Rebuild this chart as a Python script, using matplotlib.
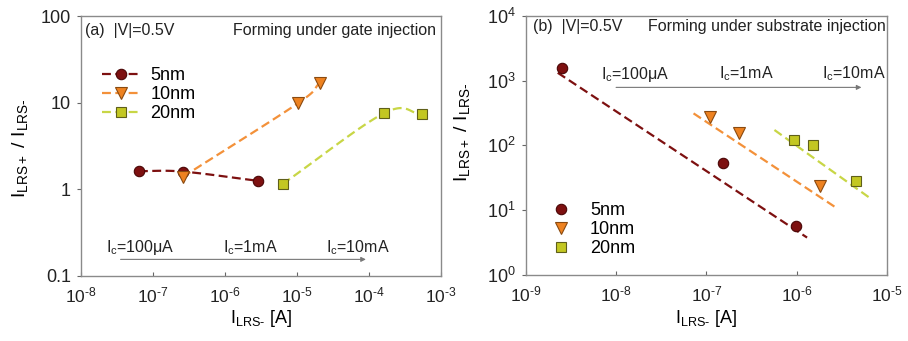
import numpy as np
import matplotlib
matplotlib.use("Agg")
import matplotlib.pyplot as plt
from matplotlib.ticker import LogLocator, FixedLocator, FixedFormatter, FuncFormatter

plt.rcParams['font.family'] = ['Liberation Sans', 'DejaVu Sans']
plt.rcParams['mathtext.fontset'] = 'custom'
plt.rcParams['mathtext.rm'] = 'Liberation Sans'
plt.rcParams['mathtext.it'] = 'Liberation Sans:italic'
plt.rcParams['mathtext.bf'] = 'Liberation Sans:bold'

# ---------------- data (a) gate injection ----------------
a_labels = ['5nm', '10nm', '20nm']
a5_x = [6.4e-8, 2.6e-7, 2.9e-6]
a5_y = [1.62, 1.6, 1.25]
a10_x = [2.6e-7, 1.02e-5, 2.05e-5]
a10_y = [1.39, 9.8, 16.8]
a20_x = [6.3e-6, 1.63e-4, 5.4e-4]
a20_y = [1.15, 7.6, 7.3]

# ---------------- data (b) substrate injection ----------------
b5_x = [2.5e-9, 1.53e-7, 9.8e-7]
b5_y = [1540, 53, 5.8]
b10_x = [1.1e-7, 2.3e-7, 1.8e-6]
b10_y = [277, 153, 23.6]
b20_x = [9.3e-7, 1.5e-6, 4.5e-6]
b20_y = [121, 101, 28.5]
# fitted trend lines (end points)
fit5_x = [2.26e-9, 1.30e-6]
fit5_y = [1318, 3.8]
fit10_x = [7.2e-8, 2.64e-6]
fit10_y = [312, 11.3]
fit20_x = [5.66e-7, 6.7e-6]
fit20_y = [173, 14.9]

ic_labels = ['100μA', '1mA', '10mA']
a_ic_x = [2.27e-8, 9.3e-7, 2.5e-5]
a_ic_y = 0.214
a_arrow_x = [3.56e-8, 9.0e-5]
a_arrow_y = 0.155
b_ic_x = [6.8e-9, 1.37e-7, 1.9e-6]
b_ic_y = 1260
b_arrow_x = [1.0e-8, 5.2e-6]
b_arrow_y = 785

c5 = '#7d1010'
c5e = '#4a0606'
c10l = '#f3913a'
c10f = '#ee8220'
c10e = '#8a4a10'
c20l = '#c8d646'
c20f = '#c3c722'
c20e = '#5f5f1a'

HY = '\u2010'  # short hyphen


def catmull(xs, ys, n=40):
    """Smooth parametric curve through points in log-log space."""
    P = np.column_stack([np.log10(xs), np.log10(ys)])
    m = len(P)
    T = np.zeros_like(P)
    for i in range(m):
        if i == 0:
            T[i] = P[1] - P[0]
        elif i == m - 1:
            T[i] = P[-1] - P[-2]
        else:
            T[i] = (P[i + 1] - P[i - 1]) / 2
    out = []
    for i in range(m - 1):
        t = np.linspace(0, 1, n)[:, None]
        h00 = 2 * t**3 - 3 * t**2 + 1
        h10 = t**3 - 2 * t**2 + t
        h01 = -2 * t**3 + 3 * t**2
        h11 = t**3 - t**2
        seg = h00 * P[i] + h10 * T[i] + h01 * P[i + 1] + h11 * T[i + 1]
        out.append(seg)
    out = np.vstack(out)
    return 10 ** out[:, 0], 10 ** out[:, 1]


def pow_fmt(v, pos):
    e = int(round(np.log10(v)))
    s = str(e).replace('-', HY)
    return r'10$^{\mathregular{' + s + '}}$'


fig = plt.figure(figsize=(9.08, 3.41), dpi=100)
ax1 = fig.add_axes([0.089, 0.191, 0.397, 0.762])
ax2 = fig.add_axes([0.579, 0.193, 0.398, 0.761])

dash = (4, 2)
series_a = [(a5_x, a5_y, c5, c5, c5e, 'o', 7.5),
            (a10_x, a10_y, c10l, c10f, c10e, 'v', 8),
            (a20_x, a20_y, c20l, c20f, c20e, 's', 7)]
handles = []
for (xs, ys, lc, fc, ec, mk, ms), lab in zip(series_a, a_labels):
    sx, sy = catmull(xs, ys)
    ax1.plot(sx, sy, color=lc, lw=1.6, dashes=dash, zorder=2)
    ax1.plot(xs, ys, ls='none', marker=mk, ms=ms, mfc=fc, mec=ec, mew=0.8, zorder=3)
    hh, = ax1.plot([], [], color=lc, lw=1.6, dashes=dash, marker=mk, ms=ms,
                   mfc=fc, mec=ec, mew=0.8, label=lab)
    handles.append(hh)

ax1.set_xscale('log')
ax1.set_yscale('log')
ax1.set_xlim(1e-8, 1e-3)
ax1.set_ylim(0.1, 100)
ax1.yaxis.set_major_locator(FixedLocator([0.1, 1, 10, 100]))
ax1.yaxis.set_major_formatter(FixedFormatter(['0.1', '1', '10', '100']))
ax1.xaxis.set_major_locator(FixedLocator([1e-8, 1e-7, 1e-6, 1e-5, 1e-4, 1e-3]))
ax1.xaxis.set_major_formatter(FuncFormatter(pow_fmt))
ax1.minorticks_off()

ax1.legend(handles, a_labels, loc='upper left', bbox_to_anchor=(0.038, 0.83),
           frameon=False, fontsize=13, handlelength=2.1, labelspacing=0.1,
           handletextpad=0.6, borderaxespad=0)

ax1.text(0.012, 0.945, '(a)  |V|=0.5V', transform=ax1.transAxes, fontsize=11.5,
         ha='left', va='center', color='#222222')
ax1.text(0.985, 0.945, 'Forming under gate injection', transform=ax1.transAxes,
         fontsize=11.5, ha='right', va='center', color='#222222')
for x, lab in zip(a_ic_x, ic_labels):
    ax1.text(x, a_ic_y, r'I$_\mathregular{c}$=' + lab, fontsize=11.5,
             ha='left', va='center', color='#222222')
ax1.annotate('', xy=(a_arrow_x[1], a_arrow_y), xytext=(a_arrow_x[0], a_arrow_y),
             arrowprops=dict(arrowstyle='-|>', color='#777777', lw=0.8,
                             mutation_scale=7, shrinkA=0, shrinkB=0))

ylab = r'I$_\mathregular{LRS+}$ / I$_\mathregular{LRS' + HY + '}$'
xlab = r'I$_\mathregular{LRS' + HY + '}$ [A]'
ax1.set_ylabel(ylab, fontsize=14)
ax1.yaxis.set_label_coords(-0.14, 0.49)
ax1.set_xlabel(xlab, fontsize=13, labelpad=2)

# ---- panel b ----
series_b = [(b5_x, b5_y, fit5_x, fit5_y, c5, c5, c5e, 'o', 7.5),
            (b10_x, b10_y, fit10_x, fit10_y, c10l, c10f, c10e, 'v', 8),
            (b20_x, b20_y, fit20_x, fit20_y, c20l, c20f, c20e, 's', 7)]
for (xs, ys, fx, fy, lc, fc, ec, mk, ms), lab in zip(series_b, a_labels):
    ax2.plot(fx, fy, color=lc, lw=1.6, dashes=dash, zorder=2)
    ax2.plot(xs, ys, ls='none', marker=mk, ms=ms, mfc=fc, mec=ec, mew=0.8,
             zorder=3, label=lab)

ax2.set_xscale('log')
ax2.set_yscale('log')
ax2.set_xlim(1e-9, 1e-5)
ax2.set_ylim(1, 1e4)
ax2.xaxis.set_major_locator(FixedLocator([1e-9, 1e-8, 1e-7, 1e-6, 1e-5]))
ax2.yaxis.set_major_locator(FixedLocator([1, 10, 100, 1e3, 1e4]))
ax2.xaxis.set_major_formatter(FuncFormatter(pow_fmt))
ax2.yaxis.set_major_formatter(FuncFormatter(pow_fmt))
ax2.minorticks_off()
ax2.legend(loc='upper left', bbox_to_anchor=(0.048, 0.31), frameon=False,
           fontsize=13, handlelength=1.2, labelspacing=0.12, handletextpad=1.0,
           borderaxespad=0)

ax2.text(0.02, 0.957, '(b)  |V|=0.5V', transform=ax2.transAxes, fontsize=11.5,
         ha='left', va='center', color='#222222')
ax2.text(0.997, 0.957, 'Forming under substrate injection', transform=ax2.transAxes,
         fontsize=11.5, ha='right', va='center', color='#222222')
for x, lab in zip(b_ic_x, ic_labels):
    ax2.text(x, b_ic_y, r'I$_\mathregular{c}$=' + lab, fontsize=11.5,
             ha='left', va='center', color='#222222')
ax2.annotate('', xy=(b_arrow_x[1], b_arrow_y), xytext=(b_arrow_x[0], b_arrow_y),
             arrowprops=dict(arrowstyle='-|>', color='#777777', lw=0.8,
                             mutation_scale=7, shrinkA=0, shrinkB=0))
ax2.set_ylabel(ylab, fontsize=14)
ax2.yaxis.set_label_coords(-0.148, 0.55)
ax2.set_xlabel(xlab, fontsize=13, labelpad=2)

for ax in (ax1, ax2):
    for s in ax.spines.values():
        s.set_color('#8a8a8a')
        s.set_linewidth(1.0)
    ax.tick_params(axis='both', which='major', labelsize=13, color='#666666',
                   length=3, width=0.8, pad=4, labelcolor='#222222')
    ax.tick_params(axis='x', direction='in', pad=7, labelsize=12.5)
    ax.tick_params(axis='y', direction='out')

fig.savefig('out.png', dpi=100)
